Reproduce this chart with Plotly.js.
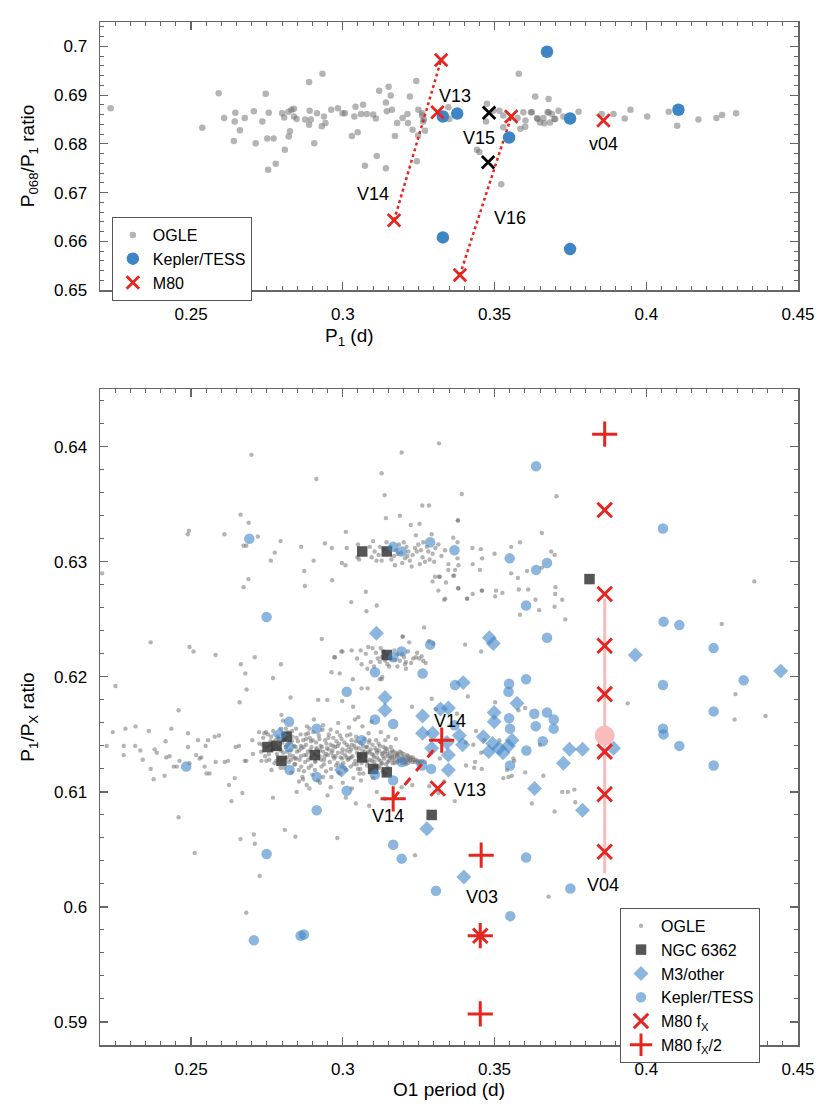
<!DOCTYPE html>
<html><head><meta charset="utf-8">
<script src="https://cdn.plot.ly/plotly-3.0.1.min.js"></script>
<style>html,body{margin:0;padding:0;background:#fff}#chart{width:830px;height:1107px}</style>
</head><body><div id="chart"></div>
<script>
// ---------------- TOP PANEL DATA ----------------
const topOgle = [[0.2235,0.6873],[0.2537,0.6833],[0.2591,0.6904],[0.2609,0.6853],[0.2641,0.6806],[0.2644,0.6846],[0.2646,0.6864],[0.2661,0.6828],[0.2677,0.6853],[0.2707,0.6867],[0.2713,0.6801],[0.2735,0.6846],[0.2746,0.6903],[0.2751,0.6811],[0.2756,0.6864],[0.2754,0.6747],[0.2772,0.6811],[0.2779,0.6759],[0.2800,0.6863],[0.2807,0.6854],[0.2809,0.6788],[0.2822,0.6815],[0.2826,0.6826],[0.2821,0.6866],[0.2831,0.6870],[0.2839,0.6872],[0.2839,0.6856],[0.2848,0.6851],[0.2876,0.6850],[0.2889,0.6927],[0.2891,0.6868],[0.2895,0.6850],[0.2889,0.6839],[0.2906,0.6801],[0.2915,0.6863],[0.2931,0.6836],[0.2933,0.6944],[0.2938,0.6856],[0.2943,0.6843],[0.2962,0.6870],[0.2984,0.6873],[0.2999,0.6863],[0.3007,0.6863],[0.3030,0.6816],[0.3038,0.6856],[0.3042,0.6876],[0.3049,0.6824],[0.3060,0.6861],[0.3067,0.6880],[0.3073,0.6755],[0.3079,0.6861],[0.3100,0.6860],[0.3109,0.6852],[0.3112,0.6775],[0.3120,0.6909],[0.3142,0.6885],[0.3142,0.6750],[0.3145,0.6867],[0.3151,0.6917],[0.3158,0.6899],[0.3162,0.6870],[0.3172,0.6816],[0.3179,0.6843],[0.3197,0.6853],[0.3213,0.6861],[0.3221,0.6897],[0.3230,0.6829],[0.3215,0.6843],[0.3242,0.6929],[0.3244,0.6764],[0.3249,0.6870],[0.3248,0.6817],[0.3262,0.6863],[0.3267,0.6850],[0.3271,0.6827],[0.3348,0.6875],[0.3351,0.6851],[0.3261,0.6858],[0.3265,0.6846],[0.3442,0.6788],[0.3450,0.6783],[0.3475,0.6882],[0.3472,0.6846],[0.3496,0.6868],[0.3516,0.6868],[0.3522,0.6717],[0.3529,0.6858],[0.3529,0.6834],[0.3580,0.6944],[0.3595,0.6865],[0.3602,0.6848],[0.3585,0.6831],[0.3601,0.6835],[0.3623,0.6865],[0.3634,0.6897],[0.3642,0.6851],[0.3661,0.6853],[0.3678,0.6892],[0.3678,0.6865],[0.3697,0.6851],[0.3683,0.6844],[0.3576,0.6853],[0.3620,0.6865],[0.3640,0.6853],[0.3650,0.6844],[0.3664,0.6842],[0.3675,0.6865],[0.3689,0.6861],[0.3700,0.6851],[0.3711,0.6868],[0.3727,0.6856],[0.3777,0.6866],[0.3853,0.6861],[0.3892,0.6861],[0.3929,0.6852],[0.3948,0.6870],[0.4003,0.6856],[0.4074,0.6866],[0.4102,0.6837],[0.4172,0.6850],[0.4231,0.6853],[0.4250,0.6859],[0.4296,0.6863]];

const topKeplerX = [0.3330,0.3377,0.3673,0.3548,0.3749,0.4106,0.3330,0.3749];
const topKeplerY = [0.6856,0.6862,0.6989,0.6813,0.6852,0.6870,0.6608,0.6584];

const topM80X = [0.3324,0.3312,0.3169,0.3555,0.3386,0.3859];
const topM80Y = [0.6972,0.6865,0.6643,0.6856,0.6531,0.6848];

const topBlackX = [0.3482,0.3479];
const topBlackY = [0.6864,0.6762];

const v14TopLineX = [0.3169,0.3324];
const v14TopLineY = [0.6643,0.6972];
const v16TopLineX = [0.3386,0.3555];
const v16TopLineY = [0.6531,0.6856];

const topLabels = [
  {t:'V13', x:0.3370, y:0.6899},
  {t:'V14', x:0.3100, y:0.6698},
  {t:'V15', x:0.3450, y:0.6812},
  {t:'V16', x:0.3551, y:0.6647},
  {t:'v04', x:0.3859, y:0.6799}
];

// ---------------- BOTTOM PANEL DATA ----------------
const botOgle = [
[0.2699,0.6393],[0.2913,0.6372],[0.3128,0.6377],[0.3194,0.6395],[0.3317,0.6403],[0.3138,0.6358],[0.2663,0.6341],[0.2690,0.6334],[0.2493,0.6327],[0.2489,0.6324],[0.2610,0.6324],[0.2673,0.6314],[0.2682,0.6314],[0.2720,0.6322],[0.2795,0.6318],[0.2776,0.6308],[0.2763,0.6301],[0.2863,0.6313],[0.2904,0.6301],[0.2873,0.6292],[0.2875,0.6279],[0.2689,0.6285],[0.2673,0.6278],[0.2965,0.6284],[0.2941,0.6316],[0.2964,0.6312],[0.3010,0.6326],[0.3013,0.6312],[0.2997,0.6299],[0.3009,0.6297],[0.3028,0.6265],[0.3076,0.6274],[0.3078,0.6257],[0.3112,0.6262],[0.3142,0.6338],[0.3188,0.6340],[0.3224,0.6332],[0.3253,0.6333],[0.3262,0.6349],[0.3284,0.6349],[0.3241,0.6323],[0.3293,0.6324],[0.3379,0.6336],[0.2207,0.6290],[0.2367,0.6230],[0.2495,0.6226],[0.2508,0.6222],[0.2581,0.6219],[0.2710,0.6217],[0.2931,0.6233],[0.2972,0.6217],[0.2999,0.6222],[0.3047,0.6216],[0.3268,0.6243],[0.3198,0.6235],[0.3219,0.6230],[0.3298,0.6229],
[0.3050,0.6315],[0.3048,0.6304],[0.3054,0.6302],[0.3089,0.6313],[0.3095,0.6304],[0.3100,0.6318],[0.3111,0.6301],[0.3122,0.6313],[0.3128,0.6301],[0.3144,0.6317],[0.3172,0.6297],[0.3169,0.6305],[0.3181,0.6307],[0.3185,0.6315],[0.3201,0.6317],[0.3210,0.6313],[0.3216,0.6309],[0.3213,0.6305],[0.3221,0.6301],[0.3227,0.6296],[0.3238,0.6312],[0.3244,0.6309],[0.3249,0.6315],[0.3254,0.6298],[0.3263,0.6304],[0.3265,0.6317],[0.3277,0.6313],[0.3271,0.6300],[0.3282,0.6309],[0.3296,0.6307],[0.3301,0.6300],[0.3315,0.6315],[0.3337,0.6310],[0.3348,0.6298],[0.3364,0.6321],[0.3378,0.6303],[0.3381,0.6297],[0.3370,0.6293],[0.3364,0.6288],[0.3348,0.6293],[0.3304,0.6287],[0.3317,0.6287],[0.3296,0.6283],[0.3340,0.6282],[0.3315,0.6275],[0.3334,0.6267],[0.3381,0.6277],[0.3409,0.6268],[0.3428,0.6272],[0.3427,0.6312],[0.3455,0.6311],[0.3428,0.6298],[0.3452,0.6293],[0.3458,0.6275],[0.3500,0.6307],[0.3505,0.6275],[0.3502,0.6270],
[0.3105,0.6309],[0.3118,0.6306],[0.3135,0.6311],[0.3158,0.6313],[0.3175,0.6310],[0.3192,0.6308],[0.3205,0.6303],[0.3230,0.6306],[0.3258,0.6310],[0.3286,0.6302],[0.3305,0.6312],[0.3325,0.6305],[0.3160,0.6302],[0.3196,0.6299],
[0.3029,0.6223],[0.3059,0.6223],[0.3062,0.6211],[0.3076,0.6220],[0.3084,0.6226],[0.3098,0.6225],[0.3092,0.6213],[0.3109,0.6221],[0.3125,0.6225],[0.3122,0.6213],[0.3128,0.6217],[0.3147,0.6211],[0.3153,0.6209],[0.3180,0.6220],[0.3188,0.6214],[0.3202,0.6217],[0.3208,0.6213],[0.3197,0.6235],[0.3232,0.6216],[0.3241,0.6217],[0.3260,0.6218],[0.3273,0.6212],[0.3284,0.6231],[0.3403,0.6228],[0.3456,0.6222],[0.3081,0.6207],[0.3180,0.6209],[0.3208,0.6207],[0.3033,0.6198],[0.3130,0.6200],[0.2990,0.6203],[0.2974,0.6217],[0.2796,0.6211],
[0.3135,0.6222],[0.3160,0.6216],[0.3170,0.6223],[0.3195,0.6220],[0.3215,0.6222],[0.3225,0.6212],[0.3245,0.6221],[0.3265,0.6214],[0.3115,0.6216],[0.3140,0.6214],
[0.3392,0.6359],[0.3704,0.6357],[0.3380,0.6336],[0.3656,0.6325],[0.3555,0.6313],[0.3584,0.6317],[0.3459,0.6303],[0.3378,0.6317],[0.3367,0.6288],[0.3320,0.6287],[0.3380,0.6277],[0.3338,0.6268],[0.3555,0.6290],[0.3577,0.6286],[0.3607,0.6292],[0.3656,0.6295],[0.3687,0.6309],[0.3698,0.6306],[0.3410,0.6268],[0.3459,0.6275],[0.3526,0.6273],[0.3580,0.6276],[0.3611,0.6276],[0.3635,0.6267],[0.3647,0.6258],[0.3584,0.6254],[0.3701,0.6278],[0.3700,0.6272],[0.3723,0.6267],[0.3698,0.6261],[0.3733,0.6250],[0.4356,0.6283],[0.4249,0.6246],
[0.3502,0.6178],[0.3579,0.6171],[0.3601,0.6173],[0.3439,0.6153],[0.3430,0.6141],[0.3405,0.6143],[0.3456,0.6134],[0.3436,0.6126],[0.3433,0.6121],[0.3458,0.6120],[0.3516,0.6145],[0.3565,0.6127],[0.3541,0.6119],[0.3546,0.6113],[0.3529,0.6112],[0.3557,0.6114],[0.3650,0.6141],[0.3661,0.6114],[0.3623,0.6090],[0.3698,0.6083],[0.3723,0.6100],[0.3763,0.6102],[0.3766,0.6091],[0.3369,0.6092],[0.3678,0.6009],[0.3939,0.6177],[0.4294,0.6185],[0.4291,0.6163],[0.4393,0.6166],[0.3320,0.6129],
[0.3122,0.6198],[0.3144,0.6219],[0.3172,0.6215],[0.3205,0.6211],[0.3252,0.6216],[0.3228,0.6174],[0.3293,0.6181],[0.3307,0.6172],[0.3376,0.6168],[0.3412,0.6183],[0.3466,0.6145],[0.3406,0.6123],[0.3601,0.6117],[0.3562,0.6129],[0.3742,0.6100],[0.3334,0.6109],[0.3315,0.6099],[0.3285,0.6105],[0.3229,0.6106],[0.3194,0.6104],
[0.2222,0.6140],[0.2242,0.6152],[0.2251,0.6192],[0.2278,0.6140],[0.2278,0.6132],[0.2284,0.6155],[0.2316,0.6140],[0.2317,0.6157],[0.2333,0.6136],[0.2341,0.6128],[0.2361,0.6153],[0.2367,0.6120],[0.2377,0.6111],[0.2380,0.6137],[0.2387,0.6134],[0.2413,0.6114],[0.2416,0.6144],[0.2418,0.6130],[0.2429,0.6131],[0.2435,0.6155],[0.2443,0.6122],[0.2453,0.6122],[0.2459,0.6171],[0.2462,0.6127],[0.2490,0.6139],[0.2490,0.6151],[0.2495,0.6125],[0.2517,0.6132],[0.2523,0.6145],[0.2528,0.6129],[0.2534,0.6130],[0.2545,0.6122],[0.2548,0.6140],[0.2556,0.6145],[0.2551,0.6116],[0.2561,0.6116],[0.2578,0.6148],[0.2581,0.6126],[0.2592,0.6149],[0.2611,0.6126],[0.2622,0.6127],[0.2625,0.6106],[0.2633,0.6092],[0.2644,0.6112],[0.2647,0.6139],[0.2658,0.6140],[0.2669,0.6099],[0.2677,0.6127],[0.2682,0.6127],[0.2683,0.6189],[0.2679,0.6203],[0.2664,0.6211],[0.2660,0.6178],[0.2702,0.6145],[0.2704,0.6133],[0.2724,0.6152],[0.2732,0.6127],[0.2735,0.6141],[0.2748,0.6127],[0.2741,0.6151],[0.2765,0.6119],[0.2770,0.6199],[0.2770,0.6095],[0.2798,0.6167],[0.2803,0.6162],[0.2809,0.6067],[0.2828,0.6182],[0.2842,0.6129],[0.2848,0.6100],[0.2856,0.6109],[0.2869,0.6111],[0.2881,0.6106],[0.2886,0.6151],[0.2919,0.6180],[0.2949,0.6180],[0.2963,0.6204],[0.2982,0.6060],[0.2995,0.6222],[0.2998,0.6179],[0.3034,0.6174],[0.3043,0.6090],[0.3051,0.6165],[0.3062,0.6190],[0.3082,0.6190],[0.3103,0.6209],[0.3128,0.6198],[0.3087,0.6088],[0.3112,0.6100],[0.3139,0.6094],[0.3238,0.6045],[0.2707,0.6063],[0.2726,0.6027],[0.2682,0.5995],[0.2663,0.6059],[0.2710,0.6055],[0.2844,0.6061],[0.2512,0.6047],[0.2459,0.6078],
[0.2725,0.6142],[0.2731,0.6135],[0.2738,0.6147],[0.2744,0.6131],[0.2749,0.6139],[0.2753,0.6150],[0.2758,0.6128],[0.2762,0.6144],[0.2767,0.6136],[0.2771,0.6153],[0.2775,0.6125],[0.2779,0.6141],[0.2783,0.6133],[0.2786,0.6148],[0.2790,0.6138],[0.2794,0.6129],[0.2797,0.6155],[0.2801,0.6143],[0.2804,0.6134],[0.2807,0.6121],[0.2810,0.6146],[0.2813,0.6139],[0.2816,0.6130],[0.2819,0.6152],[0.2822,0.6126],[0.2825,0.6143],[0.2828,0.6136],[0.2831,0.6117],[0.2834,0.6148],[0.2837,0.6131],[0.2840,0.6140],[0.2843,0.6124],[0.2846,0.6155],[0.2849,0.6135],[0.2852,0.6144],[0.2855,0.6119],[0.2858,0.6128],[0.2861,0.6150],[0.2864,0.6138],[0.2867,0.6113],[0.2870,0.6145],[0.2873,0.6132],[0.2876,0.6126],[0.2879,0.6141],[0.2882,0.6157],[0.2885,0.6135],[0.2888,0.6121],[0.2891,0.6147],[0.2894,0.6130],[0.2897,0.6139],[0.2900,0.6115],[0.2903,0.6152],[0.2906,0.6133],[0.2909,0.6126],[0.2912,0.6143],[0.2915,0.6137],[0.2918,0.6110],[0.2921,0.6149],[0.2924,0.6131],[0.2927,0.6140],[0.2930,0.6122],[0.2933,0.6154],[0.2936,0.6135],[0.2939,0.6128],[0.2942,0.6145],[0.2945,0.6118],[0.2948,0.6138],[0.2951,0.6132],[0.2954,0.6150],[0.2957,0.6126],[0.2960,0.6141],[0.2963,0.6113],[0.2966,0.6136],[0.2969,0.6147],[0.2972,0.6129],[0.2975,0.6139],[0.2978,0.6123],[0.2981,0.6152],[0.2984,0.6134],[0.2987,0.6142],[0.2990,0.6116],[0.2993,0.6130],[0.2996,0.6146],[0.2999,0.6137],[0.3002,0.6125],[0.3005,0.6143],[0.3008,0.6132],[0.3011,0.6119],[0.3014,0.6149],[0.3017,0.6128],[0.3020,0.6139],[0.3023,0.6135],[0.3026,0.6122],[0.3029,0.6145],[0.3032,0.6131],[0.3035,0.6112],[0.3038,0.6140],[0.3041,0.6127],[0.3044,0.6148],[0.3047,0.6134],[0.3050,0.6120],[0.3053,0.6138],[0.3056,0.6129],[0.3059,0.6143],[0.3062,0.6125],[0.3065,0.6136],[0.3068,0.6116],[0.3071,0.6146],[0.3074,0.6131],[0.3077,0.6139],[0.3080,0.6123],[0.3083,0.6134],[0.3086,0.6143],[0.3089,0.6128],[0.3092,0.6137],[0.3095,0.6119],[0.3098,0.6141],[0.3101,0.6132],[0.3104,0.6126],[0.3107,0.6138],[0.3110,0.6145],[0.3113,0.6130],[0.3116,0.6122],[0.3119,0.6136],[0.3122,0.6140],[0.3125,0.6127],[0.3128,0.6133],[0.3131,0.6118],[0.3134,0.6139],[0.3137,0.6129],[0.3140,0.6135],[0.3143,0.6124],[0.3146,0.6137],[0.3149,0.6131],[0.3152,0.6127],[0.3155,0.6134],[0.3158,0.6139],[0.3161,0.6130],[0.3164,0.6125],[0.3167,0.6135],[0.3170,0.6131],[0.3173,0.6128],[0.3176,0.6134],[0.3179,0.6126],[0.3182,0.6132],[0.3185,0.6129],[0.3188,0.6135],[0.3191,0.6127],[0.3194,0.6131],[0.3197,0.6128],[0.3200,0.6133],[0.3203,0.6126],[0.3206,0.6130],[0.3209,0.6127],[0.3212,0.6132],[0.3215,0.6125],[0.3218,0.6129],[0.3221,0.6127],[0.3225,0.6130],[0.3229,0.6126],[0.3233,0.6128],[0.3238,0.6126],[0.3243,0.6127],[0.3248,0.6125],[0.3254,0.6126],
[0.2953,0.6137],[0.2968,0.6131],[0.2983,0.6140],[0.2998,0.6129],[0.3012,0.6136],[0.3027,0.6130],[0.3043,0.6138],[0.3058,0.6133],[0.3073,0.6127],[0.3088,0.6135],[0.3103,0.6130],[0.3118,0.6128],[0.3133,0.6134],[0.3148,0.6126],[0.3163,0.6132],[0.2880,0.6132],[0.2895,0.6144],[0.2910,0.6127],[0.2925,0.6136],[0.2940,0.6131],[0.2862,0.6140],[0.2847,0.6129],[0.2832,0.6144],[0.2817,0.6135],[0.2802,0.6127],
[0.2935,0.6158],[0.2985,0.6160],[0.3020,0.6156],[0.3065,0.6157],[0.3095,0.6161],[0.3125,0.6152],[0.3150,0.6148],[0.3175,0.6146],[0.2905,0.6163],[0.3040,0.6163],[0.2890,0.6103],[0.2925,0.6108],[0.2960,0.6104],[0.3000,0.6108],[0.3030,0.6103],[0.3060,0.6110],[0.3100,0.6112],[0.3140,0.6116],[0.2950,0.6097],[0.3010,0.6095],
[0.2747,0.6152],[0.2756,0.6133],[0.2764,0.6148],[0.2773,0.6138],[0.2781,0.6127],[0.2789,0.6146],[0.2796,0.6136],[0.2803,0.6150],[0.2811,0.6129],[0.2818,0.6141],[0.2826,0.6132],[0.2833,0.6153],[0.2841,0.6124],[0.2848,0.6147],[0.2856,0.6136],[0.2863,0.6122],[0.2871,0.6139],[0.2878,0.6150],[0.2886,0.6128],[0.2893,0.6136],[0.2901,0.6145],[0.2908,0.6119],[0.2916,0.6131],[0.2923,0.6146],[0.2931,0.6139],[0.2938,0.6124],[0.2946,0.6133],[0.2953,0.6147],[0.2961,0.6120],[0.2968,0.6140],[0.2976,0.6131],[0.2983,0.6125],[0.2991,0.6149],[0.2998,0.6134],[0.3006,0.6121],[0.3013,0.6141],[0.3021,0.6129],[0.3028,0.6137],[0.3036,0.6124],[0.3043,0.6144],[0.3051,0.6131],[0.3058,0.6120],[0.3066,0.6140],[0.3073,0.6135],[0.3081,0.6126],[0.3088,0.6145],[0.3096,0.6133],[0.3103,0.6122],[0.3111,0.6136],[0.3118,0.6142],[0.3126,0.6124],[0.3133,0.6131],[0.3141,0.6138],[0.3148,0.6121],[0.3156,0.6130],[0.3163,0.6136],[0.3171,0.6125],[0.3178,0.6131],[0.3186,0.6127],[0.3193,0.6134],[0.3201,0.6129],[0.3208,0.6124],[0.3216,0.6131],[0.3223,0.6128],[0.3231,0.6130],[0.3240,0.6128],[0.3251,0.6127],[0.3262,0.6127],[0.3270,0.6126],
[0.2760,0.6140],[0.2778,0.6145],[0.2795,0.6121],[0.2812,0.6155],[0.2829,0.6128],[0.2845,0.6139],[0.2862,0.6131],[0.2879,0.6146],[0.2896,0.6123],[0.2913,0.6138],[0.2929,0.6128],[0.2946,0.6142],[0.2963,0.6134],[0.2979,0.6144],[0.2996,0.6122],[0.3013,0.6130],[0.3030,0.6141],[0.3046,0.6124],[0.3063,0.6131],[0.3080,0.6139],[0.3096,0.6127],[0.3113,0.6134],[0.3130,0.6125],[0.3146,0.6133],[0.3163,0.6128],[0.3180,0.6133],[0.3196,0.6125],[0.3213,0.6128],[0.2872,0.6118],[0.2935,0.6113],[0.2985,0.6117],[0.3055,0.6116],[0.3120,0.6121],[0.2890,0.6155],[0.2960,0.6154],[0.3025,0.6150],[0.3085,0.6151],[0.3140,0.6145]
];

const ngcX = [0.3064,0.3145,0.3145,0.2752,0.2782,0.2815,0.2798,0.2908,0.3064,0.3100,0.3145,0.3293,0.3813];
const ngcY = [0.6309,0.6309,0.6219,0.6139,0.6140,0.6148,0.6127,0.6132,0.6130,0.6120,0.6117,0.6080,0.6285];

const m3X = [0.3111,0.3483,0.3496,0.3964,0.2792,0.3139,0.3139,0.3263,0.3263,0.3296,0.3293,0.2996,0.3348,0.3348,0.3277,0.3322,0.3348,0.3343,0.3384,0.3395,0.3397,0.3499,0.3499,0.3463,0.3494,0.3481,0.3515,0.3528,0.3546,0.3558,0.3574,0.3747,0.3790,0.3727,0.3892,0.3632,0.3790,0.3399,0.4443];
const m3Y = [0.6238,0.6234,0.6229,0.6219,0.6150,0.6182,0.6171,0.6166,0.6151,0.6151,0.6138,0.6119,0.6132,0.6119,0.6068,0.6172,0.6173,0.6143,0.6149,0.6141,0.6195,0.6169,0.6161,0.6148,0.6142,0.6135,0.6138,0.6134,0.6140,0.6145,0.6177,0.6137,0.6137,0.6125,0.6138,0.6103,0.6084,0.6026,0.6205];

const keplerX = [0.2692,0.2749,0.3288,0.3166,0.3194,0.3368,0.3288,0.3194,0.3167,0.3637,0.4055,0.3550,0.3673,0.3637,0.3604,0.3673,0.4057,0.4109,0.4222,0.3106,0.3263,0.3013,0.3370,0.3106,0.3166,0.2823,0.2914,0.2823,0.3062,0.2825,0.2914,0.3106,0.3194,0.3261,0.3291,0.3166,0.3013,0.2914,0.2484,0.3166,0.3194,0.2749,0.3307,0.2707,0.2861,0.2872,0.3548,0.3546,0.3604,0.3631,0.3673,0.3695,0.3695,0.3636,0.3548,0.3551,0.3659,0.3605,0.3551,0.3368,0.4055,0.4321,0.4222,0.4055,0.4057,0.4109,0.4222,0.3604,0.3750,0.3552];
const keplerY = [0.6320,0.6252,0.6317,0.6313,0.6309,0.6310,0.6228,0.6222,0.6217,0.6383,0.6329,0.6303,0.6299,0.6293,0.6262,0.6234,0.6248,0.6245,0.6225,0.6204,0.6203,0.6187,0.6193,0.6163,0.6159,0.6161,0.6155,0.6139,0.6145,0.6119,0.6113,0.6115,0.6126,0.6123,0.6120,0.6110,0.6101,0.6084,0.6122,0.6054,0.6042,0.6046,0.6014,0.5971,0.5975,0.5976,0.6194,0.6187,0.6198,0.6168,0.6169,0.6163,0.6155,0.6157,0.6164,0.6155,0.6144,0.6136,0.6123,0.6158,0.6193,0.6197,0.6170,0.6155,0.6150,0.6140,0.6123,0.6043,0.6016,0.5992];

const m80fxX = [0.3863,0.3863,0.3863,0.3863,0.3863,0.3863,0.3863,0.3313,0.3453];
const m80fxY = [0.6345,0.6272,0.6227,0.6185,0.6135,0.6098,0.6048,0.6103,0.5975];

const m80halfX = [0.3863,0.3326,0.3166,0.3456,0.3453,0.3453];
const m80halfY = [0.6411,0.6145,0.6094,0.6045,0.5975,0.5907];

const v04MeanX = [0.3863];
const v04MeanY = [0.6149];
const v04RangeX = [0.3863,0.3863];
const v04RangeY = [0.6029,0.6268];

const v14BotLineX = [0.3166,0.3326];
const v14BotLineY = [0.6094,0.6145];

const botLabels = [
  {t:'V14', x:0.3353, y:0.6162},
  {t:'V13', x:0.3419, y:0.6102},
  {t:'V14', x:0.3149, y:0.6079},
  {t:'V03', x:0.3459, y:0.6009},
  {t:'V04', x:0.3859, y:0.6019}
];

// ---------------- STYLE ----------------
const FONT = 'Liberation Sans, Arial, Helvetica, sans-serif';
const RED = '#e52620';
const GRAY = 'rgba(105,105,105,0.5)';
const LBLUE = 'rgba(63,134,198,0.6)';
const px = a => a.map(p => p[0]);
const py = a => a.map(p => p[1]);

const traces = [
  // top
  {type:'scatter', mode:'markers', x:px(topOgle), y:py(topOgle), xaxis:'x', yaxis:'y', name:'OGLE', legend:'legend',
   marker:{size:6.5, color:GRAY}},
  {type:'scatter', mode:'lines', x:v14TopLineX, y:v14TopLineY, xaxis:'x', yaxis:'y', showlegend:false,
   line:{color:RED, width:2.5, dash:'dot'}},
  {type:'scatter', mode:'lines', x:v16TopLineX, y:v16TopLineY, xaxis:'x', yaxis:'y', showlegend:false,
   line:{color:RED, width:2.5, dash:'dot'}},
  {type:'scatter', mode:'markers', x:topKeplerX, y:topKeplerY, xaxis:'x', yaxis:'y', name:'Kepler/TESS', legend:'legend',
   marker:{size:12.5, color:'#3d85c4'}},
  {type:'scatter', mode:'markers', x:topM80X, y:topM80Y, xaxis:'x', yaxis:'y', name:'M80', legend:'legend',
   marker:{symbol:'x-thin-open', size:12.5, color:RED, line:{width:2.8, color:RED}}},
  {type:'scatter', mode:'markers', x:topBlackX, y:topBlackY, xaxis:'x', yaxis:'y', showlegend:false,
   marker:{symbol:'x-thin-open', size:12.5, color:'#000', line:{width:2.8, color:'#000'}}},
  // bottom
  {type:'scatter', mode:'markers', x:px(botOgle), y:py(botOgle), xaxis:'x2', yaxis:'y2', name:'OGLE', legend:'legend2',
   marker:{size:4.4, color:GRAY}},
  {type:'scatter', mode:'markers', x:ngcX, y:ngcY, xaxis:'x2', yaxis:'y2', name:'NGC 6362', legend:'legend2',
   marker:{symbol:'square', size:10.5, color:'rgba(55,55,55,0.85)'}},
  {type:'scatter', mode:'markers', x:m3X, y:m3Y, xaxis:'x2', yaxis:'y2', name:'M3/other', legend:'legend2',
   marker:{symbol:'diamond', size:11.5, color:LBLUE}},
  {type:'scatter', mode:'markers', x:keplerX, y:keplerY, xaxis:'x2', yaxis:'y2', name:'Kepler/TESS', legend:'legend2',
   marker:{size:10.5, color:LBLUE}},
  {type:'scatter', mode:'lines', x:v04RangeX, y:v04RangeY, xaxis:'x2', yaxis:'y2', showlegend:false,
   line:{color:'#f7bcbc', width:3}},
  {type:'scatter', mode:'markers', x:v04MeanX, y:v04MeanY, xaxis:'x2', yaxis:'y2', showlegend:false,
   marker:{size:20, color:'#f8bcbc'}},
  {type:'scatter', mode:'lines', x:v14BotLineX, y:v14BotLineY, xaxis:'x2', yaxis:'y2', showlegend:false,
   line:{color:RED, width:3, dash:'dash'}},
  {type:'scatter', mode:'markers', x:m80fxX, y:m80fxY, xaxis:'x2', yaxis:'y2', name:'M80 f<sub>X</sub>', legend:'legend2',
   marker:{symbol:'x-thin-open', size:14.5, color:RED, line:{width:3, color:RED}}},
  {type:'scatter', mode:'markers', x:m80halfX, y:m80halfY, xaxis:'x2', yaxis:'y2', name:'M80 f<sub>X</sub>/2', legend:'legend2',
   marker:{symbol:'cross-thin-open', size:18, color:RED, line:{width:3, color:RED}}}
];

const axisBase = {
  showline:true, mirror:'allticks', linecolor:'#666', linewidth:1.5,
  ticks:'inside', ticklen:8, tickwidth:1.2, tickcolor:'#666',
  showgrid:false, zeroline:false, ticklabelstandoff:8,
  tickfont:{family:FONT, size:17, color:'#000'}
};
const minorX = {dtick:0.005, ticklen:4, tickwidth:1, tickcolor:'#666', ticks:'inside'};
const minorY = {dtick:0.002, ticklen:4, tickwidth:1, tickcolor:'#666', ticks:'inside'};

const annotations = [];
topLabels.forEach(l => annotations.push({xref:'x', yref:'y', x:l.x, y:l.y, text:l.t, showarrow:false,
  font:{family:FONT, size:18, color:'#000'}}));
botLabels.forEach(l => annotations.push({xref:'x2', yref:'y2', x:l.x, y:l.y, text:l.t, showarrow:false,
  font:{family:FONT, size:18, color:'#000'}}));
annotations.push({xref:'paper', yref:'paper', x:0.357, y:0.692, text:'P<sub>1</sub> (d)', showarrow:false,
  xanchor:'center', yanchor:'middle', font:{family:FONT, size:19, color:'#000'}});

const legendBase = {bgcolor:'#fff', bordercolor:'#555', borderwidth:1, xanchor:'left', yanchor:'top',
  font:{family:FONT, size:16, color:'#000'}, itemsizing:'trace', tracegroupgap:0};

const layout = {
  width:830, height:1107,
  margin:{l:100, r:32, t:22, b:62},
  paper_bgcolor:'#fff', plot_bgcolor:'#fff',
  font:{family:FONT, color:'#000'},
  hovermode:false,
  xaxis:Object.assign({}, axisBase, {domain:[0,1], anchor:'y', range:[0.22,0.45], tick0:0, dtick:0.05, minor:minorX}),
  yaxis:Object.assign({}, axisBase, {domain:[0.738,1], anchor:'x', range:[0.65,0.705], tick0:0, dtick:0.01, minor:minorY,
    title:{text:'P<sub>068</sub>/P<sub>1</sub> ratio', font:{family:FONT, size:19, color:'#000'}, standoff:14}}),
  xaxis2:Object.assign({}, axisBase, {domain:[0,1], anchor:'y2', range:[0.22,0.45], tick0:0, dtick:0.05, minor:minorX,
    title:{text:'O1 period (d)', font:{family:FONT, size:19, color:'#000'}, standoff:2}}),
  yaxis2:Object.assign({}, axisBase, {domain:[0,0.641], anchor:'x2', range:[0.588,0.645], tick0:0, dtick:0.01, minor:minorY,
    title:{text:'P<sub>1</sub>/P<sub>X</sub> ratio', font:{family:FONT, size:19, color:'#000'}, standoff:14}}),
  legend:Object.assign({}, legendBase, {x:0.017, y:0.8094}),
  legend2:Object.assign({}, legendBase, {x:0.745, y:0.134}),
  annotations:annotations
};

Plotly.newPlot('chart', traces, layout, {staticPlot:true, displayModeBar:false});
</script>
</body></html>
